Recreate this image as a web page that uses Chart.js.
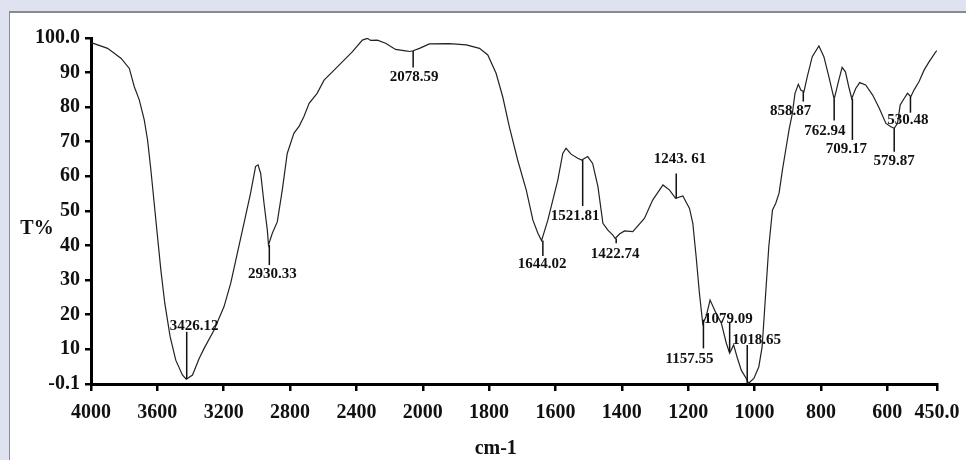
<!DOCTYPE html>
<html>
<head>
<meta charset="utf-8">
<script src="https://cdn.jsdelivr.net/npm/chart.js@4/dist/chart.umd.min.js"></script>
<style>
  html, body { margin: 0; padding: 0; }
  body { width: 966px; height: 460px; background: #dfe3f1; position: relative; overflow: hidden; }
  #panel { position: absolute; left: 9px; top: 11px; right: 0; bottom: 0; background: #fff;
           border-left: 1.5px solid #8a8a8a; border-top: 2px solid #8a8a8a; }
  #wrap { position: absolute; left: 0; top: 0; width: 966px; height: 460px; }
</style>
</head>
<body>
<div id="panel"></div>
<div id="wrap"><canvas id="ftir" width="966" height="460"></canvas></div>
<script>
// FTIR spectrum, wavenumber (cm-1) vs transmittance (%)
const wavenumbers = [
  4000, 3990, 3900, 3818, 3769, 3739, 3709, 3679, 3659, 3639, 3619, 3599, 3579, 3555, 3523, 3489,
  3449, 3426, 3388, 3348, 3318, 3258, 3198, 3158, 3118, 3078, 3038, 3008, 2993, 2977, 2957, 2937,
  2930, 2907, 2877, 2847, 2817, 2777, 2745, 2717, 2685, 2637, 2595, 2545, 2485, 2425, 2364, 2334,
  2314, 2274, 2224, 2164, 2104, 2078, 2058, 2020, 1980, 1920, 1869, 1829, 1804, 1779, 1759, 1739,
  1714, 1688, 1668, 1653, 1642, 1623, 1608, 1593, 1578, 1568, 1553, 1533, 1521, 1503, 1488, 1472,
  1457, 1442, 1427, 1420, 1407, 1392, 1367, 1332, 1307, 1276, 1256, 1238, 1216, 1196, 1186, 1176,
  1166, 1156, 1146, 1134, 1116, 1100, 1085, 1075, 1063, 1052, 1040, 1025, 1018, 1002, 987, 977,
  967, 957, 946, 936, 926, 916, 906, 896, 886, 878, 868, 860, 851, 841, 826, 806,
  791, 776, 760, 746, 736, 726, 716, 707, 695, 683, 665, 644, 624, 604, 589, 579,
  569, 561, 549, 539, 529, 519, 504, 489, 474, 454, 450
];
const transmittance = [
  98.7, 98.5, 97.0, 94.1, 91.2, 85.9, 82.1, 76.3, 70.5, 61.8, 52.2, 42.5, 32.9, 23.2, 13.6, 6.8,
  2.5, 1.3, 2.5, 7.3, 10.2, 15.5, 22.3, 29.0, 37.7, 46.4, 55.1, 62.8, 63.3, 60.8, 52.2, 44.4,
  40.1, 43.5, 46.8, 56.0, 66.6, 72.4, 74.5, 77.2, 81.1, 84.0, 87.8, 90.2, 93.1, 96.0, 99.4, 99.9,
  99.3, 99.4, 98.5, 96.7, 96.3, 96.1, 96.3, 97.0, 98.3, 98.4, 98.0, 97.0, 95.1, 89.8, 83.0, 74.3,
  64.7, 56.0, 47.3, 43.5, 41.4, 47.3, 53.1, 58.9, 66.6, 68.1, 66.4, 65.2, 64.7, 65.7, 63.7, 57.0,
  46.4, 44.4, 43.0, 42.0, 43.3, 44.2, 44.0, 47.8, 53.1, 57.5, 56.0, 53.6, 54.3, 50.7, 46.4, 36.7,
  26.1, 17.3, 19.4, 24.2, 20.4, 17.5, 11.7, 8.8, 11.2, 7.5, 3.9, 1.5, 0.1, 1.5, 4.9, 10.7,
  25.2, 39.6, 50.2, 52.2, 55.1, 61.8, 67.6, 73.4, 78.2, 84.0, 86.6, 84.9, 84.5, 88.8, 94.6, 97.7,
  94.6, 88.8, 82.3, 87.8, 91.5, 90.2, 85.9, 82.5, 85.4, 87.1, 86.4, 83.5, 79.7, 75.3, 74.3, 73.9,
  75.3, 80.6, 82.5, 84.0, 83.0, 85.0, 87.4, 90.7, 93.1, 96.0, 96.3
];

const xTicks = [4000, 3600, 3200, 2800, 2400, 2000, 1800, 1600, 1400, 1200, 1000, 800, 600, 450];
const yTicks = [-0.1, 10, 20, 30, 40, 50, 60, 70, 80, 90, 100];

// peak annotations: label, marker x, marker from/to (T), label centre (x, T)
const peakLabels = ['3426.12', '2930.33', '2078.59', '1644.02', '1521.81', '1422.74', '1243. 61', '1157.55',
                    '1079.09', '1018.65', '858.87', '762.94', '709.17', '579.87', '530.48'];
const peakWave = [3423, 2925, 2058, 1638, 1518, 1417, 1236, 1154, 1075, 1022, 853, 760, 705, 579, 530];
const peakFrom = [15.0, 40.1, 96.3, 41.4, 64.7, 42.0, 60.8, 18.5, 17.9, 11.2, 84.5, 82.3, 82.5, 73.9, 83.0];
const peakTo = [1.3, 34.3, 91.5, 36.9, 51.4, 40.6, 53.6, 10.2, 9.2, -0.1, 81.6, 76.1, 70.5, 67.1, 78.4];
const labelWave = [3378, 2906, 2052, 1640, 1541, 1420, 1225, 1196, 1079, 994, 891, 788, 723, 579, 538];
const labelT = [16.5, 31.7, 88.6, 34.6, 48.5, 37.4, 65.0, 7.2, 18.7, 12.6, 78.7, 73.1, 67.9, 64.5, 76.3];

const BREAK = 2000; // the axis scale doubles below 2000 cm-1

// linear axis whose scale changes at BREAK
class WaveScale extends Chart.LinearScale {
  static id = 'wave';
  static defaults = Chart.LinearScale.defaults;
  unit(v) { return v >= BREAK ? v : BREAK - 2 * (BREAK - v); }
  buildTicks() { return xTicks.map(v => ({ value: v })); }
  getPixelForValue(v) {
    const a = this.unit(this.max), b = this.unit(this.min);
    return this.left + (a - this.unit(v)) / (a - b) * this.width;
  }
  getValueForPixel(p) {
    const a = this.unit(this.max), b = this.unit(this.min);
    const u = a - (p - this.left) / this.width * (a - b);
    return u >= BREAK ? u : BREAK - (BREAK - u) / 2;
  }
}
Chart.register(WaveScale);

const serif = '"Liberation Serif", "Times New Roman", serif';

const peakNotes = {
  id: 'peakNotes',
  afterDatasetsDraw(chart) {
    const { ctx, chartArea, scales: { x, y } } = chart;
    ctx.save();
    ctx.strokeStyle = '#111';
    ctx.fillStyle = '#111';
    ctx.lineWidth = 1.5;
    ctx.textAlign = 'center';
    ctx.textBaseline = 'middle';
    ctx.font = 'bold 15px ' + serif;
    peakLabels.forEach((txt, i) => {
      const px = x.getPixelForValue(peakWave[i]);
      ctx.beginPath();
      ctx.moveTo(px, y.getPixelForValue(peakFrom[i]));
      ctx.lineTo(px, y.getPixelForValue(peakTo[i]));
      ctx.stroke();
      ctx.fillText(txt, x.getPixelForValue(labelWave[i]), y.getPixelForValue(labelT[i]));
    });
    // axis titles
    ctx.font = 'bold 20px ' + serif;
    ctx.fillText('T%', chartArea.left - 54, y.getPixelForValue(44.8));
    ctx.fillText('cm-1', x.getPixelForValue(1780), chart.height - 11);
    ctx.restore();
  }
};

new Chart(document.getElementById('ftir'), {
  type: 'line',
  data: {
    datasets: [{
      data: wavenumbers.map((w, i) => ({ x: w, y: transmittance[i] })),
      borderColor: '#222',
      borderWidth: 1.2,
      pointRadius: 0,
      tension: 0,
      fill: false
    }]
  },
  options: {
    responsive: false,
    animation: false,
    events: [],
    layout: { padding: { top: 38, right: 29, left: 0, bottom: 0 } },
    plugins: { legend: { display: false }, tooltip: { enabled: false } },
    scales: {
      x: {
        type: 'wave',
        min: 450,
        max: 4000,
        afterFit: s => { s.height = 76; s.paddingLeft = 0; s.paddingRight = 0; },
        border: { display: true, color: '#000', width: 3 },
        grid: { drawOnChartArea: false, drawTicks: true, tickLength: 7, color: '#000', lineWidth: 2.5 },
        ticks: {
          autoSkip: false,
          maxRotation: 0,
          padding: 10,
          color: '#111',
          font: { family: serif, size: 20, weight: 'bold' },
          callback: v => v === 450 ? '450.0' : String(v)
        }
      },
      y: {
        min: -0.1,
        max: 100,
        afterFit: s => { s.width = 91; s.paddingTop = 0; s.paddingBottom = 0; },
        afterBuildTicks: s => { s.ticks = yTicks.map(v => ({ value: v })); },
        border: { display: true, color: '#000', width: 3 },
        grid: { drawOnChartArea: false, drawTicks: true, tickLength: 6, color: '#000', lineWidth: 2.5 },
        ticks: {
          padding: 5,
          color: '#111',
          font: { family: serif, size: 20, weight: 'bold' },
          callback: v => v === 100 ? '100.0' : String(v)
        }
      }
    }
  },
  plugins: [peakNotes]
});
</script>
</body>
</html>
